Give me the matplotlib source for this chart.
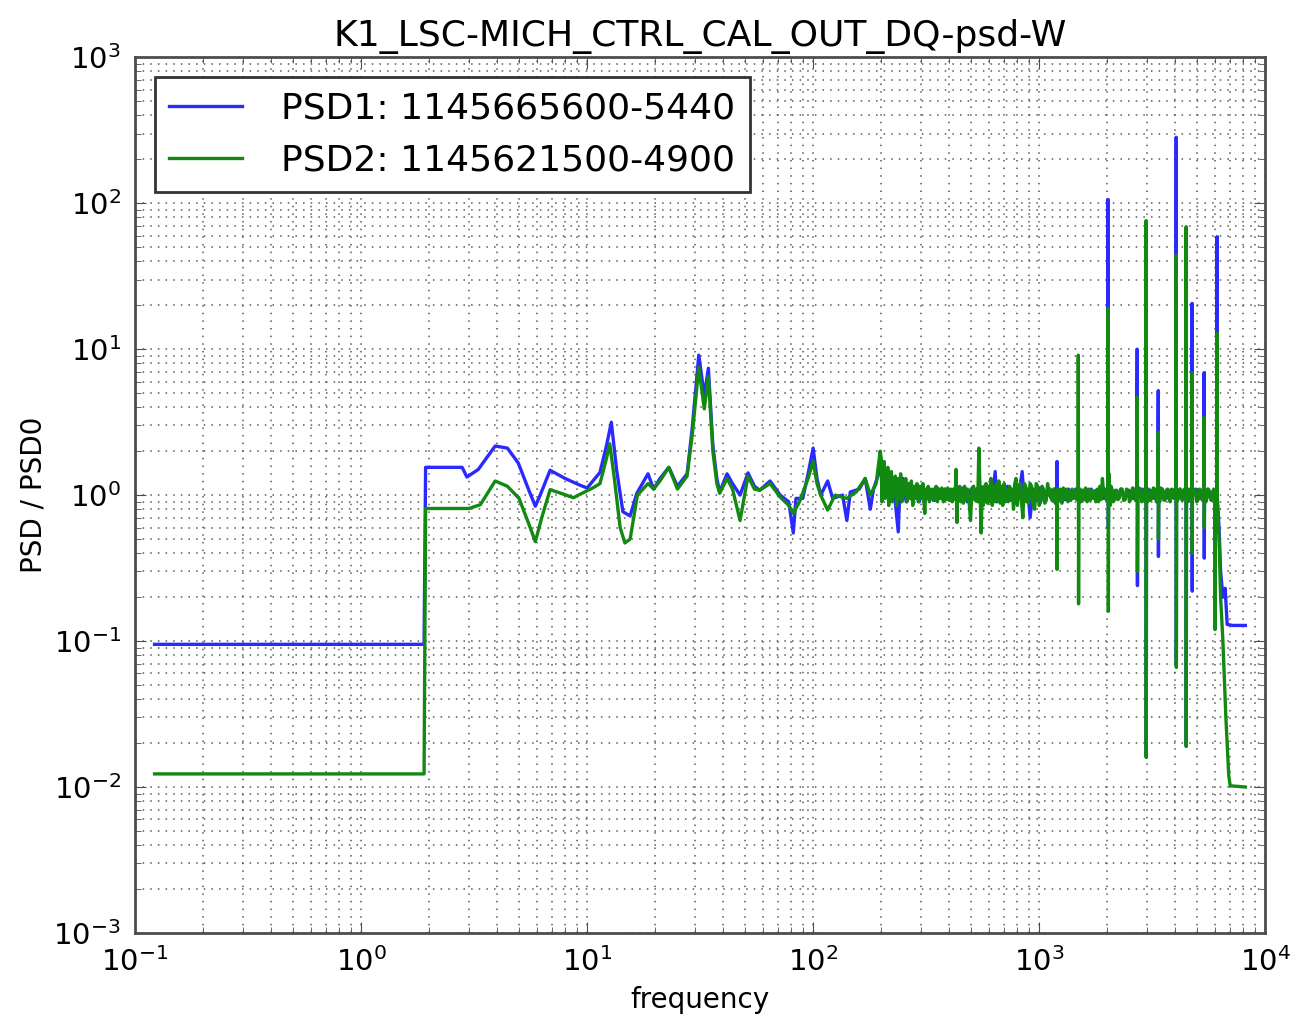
import matplotlib
matplotlib.use('Agg')
import matplotlib.pyplot as plt

title = 'K1_LSC-MICH_CTRL_CAL_OUT_DQ-psd-W'
label1 = 'PSD1: 1145665600-5440'
label2 = 'PSD2: 1145621500-4900'

# PSD1 (blue): (frequency, ratio) pairs
blue_points = [
    (0.122, 0.095), (1.90, 0.095), (1.93, 1.55), (2.8, 1.55), (2.94, 1.33), (3.3, 1.5),
    (3.92, 2.17), (4.44, 2.1), (4.96, 1.66), (5.5, 1.1), (5.9, 0.84), (6.2, 1.0), (6.86, 1.48),
    (8.0, 1.3), (9.3, 1.17), (10.0, 1.12), (11.4, 1.43), (12.2, 2.2), (12.8, 3.16), (13.5, 1.5),
    (14.4, 0.77), (15.5, 0.72), (16.6, 1.03), (18.6, 1.4), (19.7, 1.1), (21, 1.3), (23, 1.55),
    (25.1, 1.15), (27.7, 1.4), (29.2, 2.9), (31.2, 9.1), (33.0, 4.8), (34.4, 7.4), (36.0, 2.2),
    (37.5, 1.3), (38.6, 1.05), (41.6, 1.4), (44, 1.2), (47.5, 1.0), (51.5, 1.42), (55, 1.15),
    (58, 1.08), (64.5, 1.25), (71.5, 1.0), (78, 0.9), (81.7, 0.55), (84, 0.95), (90, 0.95),
    (95, 1.4), (100, 2.1), (104, 1.3), (108, 1.0), (116, 1.25), (122, 0.95), (135, 1.0),
    (141, 0.67), (146, 1.05), (160, 1.1), (170, 1.3), (179, 0.8), (185, 1.1), (198, 1.5),
    (200, 1.6), (205, 0.95), (210, 1.4), (216, 0.9), (222, 1.35), (230, 0.95), (238, 0.56),
    (242, 1.1), (250, 1.3), (258, 0.9), (266, 1.2), (275, 0.92), (285, 1.15), (295, 0.9),
    (305, 1.15), (315, 0.95), (325, 1.1), (340, 0.92), (355, 1.12), (370, 0.95), (385, 1.1),
    (400, 0.93), (420, 1.1), (440, 0.92), (460, 1.12), (480, 0.9), (500, 1.1), (525, 0.93),
    (550, 1.15), (575, 0.92), (600, 1.1), (620, 0.95), (639, 1.45), (650, 0.9), (675, 1.1),
    (700, 0.93), (725, 1.15), (750, 0.92), (780, 1.1), (810, 0.95), (841, 1.45), (860, 0.9),
    (890, 1.1), (912, 0.7), (940, 1.1), (975, 0.93), (1010, 1.12), (1050, 0.92), (1090, 1.1),
    (1130, 0.95), (1170, 1.1), (1195, 1.0), (1200, 1.7), (1206, 0.9), (1250, 1.08), (1300, 0.93),
    (1350, 1.1), (1400, 0.95), (1450, 1.1), (1500, 0.95), (1560, 1.08), (1620, 0.93), (1700, 1.1),
    (1780, 0.95), (1860, 1.05), (1940, 0.95), (2010, 1.0), (2018, 106), (2024, 0.59), (2030, 1.0),
    (2100, 1.08), (2200, 0.95), (2300, 1.1), (2400, 0.95), (2500, 1.08), (2600, 0.95), (2700, 1.0),
    (2716, 10), (2722, 0.24), (2730, 1.0), (2850, 1.1), (2960, 1.0), (2972, 60), (2978, 0.016),
    (2985, 1.0), (3100, 1.08), (3230, 0.95), (3350, 1.0), (3365, 5.2), (3371, 0.38), (3380, 1.0),
    (3500, 1.1), (3650, 0.95), (3800, 1.08), (3950, 0.95), (4030, 1.0), (4040, 283), (4046, 0.07),
    (4055, 1.0), (4200, 1.1), (4350, 0.95), (4455, 1.0), (4470, 50), (4476, 0.019), (4485, 1.0),
    (4600, 1.08), (4735, 1.0), (4750, 20.6), (4757, 0.22), (4765, 1.0), (4950, 1.1), (5150, 0.95),
    (5350, 1.0), (5370, 6.9), (5378, 0.37), (5390, 1.0), (5600, 1.1), (5850, 0.95), (6120, 1.0),
    (6130, 59), (6140, 0.95), (6250, 0.6), (6350, 0.3), (6500, 0.2), (6650, 0.23), (6790, 0.13),
    (7200, 0.128), (8170, 0.128),
]

# PSD2 (green)
green_points = [
    (0.122, 0.0123), (1.90, 0.0123), (1.93, 0.81), (2.9, 0.81), (3.0, 0.81), (3.37, 0.86),
    (3.92, 1.25), (4.44, 1.15), (5.0, 0.95), (5.6, 0.6), (5.9, 0.48), (6.3, 0.7), (6.86, 1.09),
    (7.8, 1.02), (8.7, 0.96), (9.5, 1.03), (10.6, 1.12), (11.4, 1.2), (12.2, 1.8), (12.6, 2.25),
    (13.2, 1.3), (14.0, 0.6), (14.7, 0.47), (15.5, 0.5), (16.7, 1.0), (18.6, 1.2), (19.7, 1.1),
    (21, 1.25), (23, 1.55), (25.1, 1.1), (27.7, 1.35), (29.2, 2.6), (31.2, 7.5), (33.0, 3.9),
    (34.4, 6.5), (36.0, 2.0), (37.5, 1.2), (38.6, 1.03), (41.6, 1.3), (44, 1.1), (47.5, 0.67),
    (51.5, 1.35), (55, 1.1), (58, 1.08), (64.5, 1.2), (71.5, 0.97), (78, 0.85), (81.7, 0.75),
    (87, 0.9), (95, 1.3), (100, 1.7), (104, 1.2), (108, 1.0), (116, 0.79), (125, 1.0),
    (141, 0.95), (155, 1.05), (170, 1.3), (179, 1.0), (190, 1.2), (198, 2.0),
    (200, 1.8), (201.5, 0.9), (203, 1.6), (204.5, 1.05), (206, 1.7), (208, 0.95), (210, 1.5),
    (212, 1.0), (214, 1.55), (216, 0.85), (218, 1.4), (220, 0.95), (222, 1.45), (224, 0.9),
    (226, 1.3), (228, 1.0), (231, 1.35), (234, 0.85), (238, 1.3), (241, 0.95), (244, 1.4),
    (247, 0.9), (250, 1.25), (253, 1.0), (257, 1.3), (260, 0.9), (264, 1.2), (268, 0.95),
    (272, 1.25), (276, 0.85), (280, 1.15), (284, 0.95), (288, 1.2), (292, 0.9), (297, 1.15),
    (301, 0.95), (306, 1.2), (309, 0.9), (312, 0.75), (315, 1.1), (319, 0.95), (323, 1.15),
    (327, 0.9), (331, 1.1), (336, 0.95), (340, 1.1), (345, 0.92), (350, 1.15), (355, 0.9),
    (360, 1.1), (366, 0.95), (371, 1.12), (377, 0.9), (382, 1.1), (388, 0.93), (394, 1.12),
    (400, 0.92), (406, 1.1), (412, 0.9), (418, 1.1), (425, 0.93), (429, 1.5), (433, 0.65),
    (436, 1.1), (440, 0.95), (445, 1.15), (450, 0.9), (456, 1.1), (462, 0.88), (468, 1.15),
    (475, 0.93), (482, 1.1), (490, 0.9), (497, 0.67), (505, 1.12), (513, 1.15), (521, 0.92),
    (528, 1.1), (535, 0.9), (541, 2.1), (548, 1.0), (554, 0.55), (560, 1.1), (563, 1.12),
    (566, 0.85), (570, 1.15), (575, 0.9), (582, 1.2), (590, 0.88), (597, 1.15), (605, 0.9),
    (612, 1.3), (620, 0.85), (629, 1.15), (639, 0.9), (647, 1.2), (655, 0.92), (663, 1.25),
    (672, 0.88), (681, 1.15), (690, 0.85), (700, 1.2), (710, 0.9), (720, 1.1), (730, 0.9),
    (740, 1.15), (750, 0.92), (760, 1.1), (770, 0.8), (780, 1.2), (790, 1.3), (801, 0.85),
    (812, 1.1), (823, 1.2), (835, 0.9), (847, 0.7), (860, 1.2), (872, 1.15), (885, 0.9),
    (898, 0.88), (912, 1.2), (926, 1.15), (940, 0.85), (955, 0.8), (970, 1.2), (985, 1.15),
    (1000, 0.85), (1015, 0.9), (1030, 1.15), (1045, 1.1), (1060, 0.88), (1075, 0.92),
    (1090, 1.2), (1105, 1.0), (1120, 1.1), (1140, 0.92), (1160, 1.1), (1178, 0.88), (1195, 1.0),
    (1200, 0.31), (1206, 1.1), (1222, 0.92), (1240, 1.1), (1260, 0.88), (1280, 1.12),
    (1300, 0.95), (1320, 1.1), (1340, 0.9), (1360, 1.08), (1380, 0.92), (1400, 1.1),
    (1425, 0.95), (1450, 1.08), (1468, 0.93), (1486, 1.0), (1490, 9.1), (1494, 0.18),
    (1498, 1.0), (1515, 1.1), (1530, 0.9), (1555, 1.08), (1580, 0.93), (1605, 1.12), (1630, 0.9),
    (1655, 1.1), (1680, 0.92), (1705, 1.08), (1730, 0.95), (1755, 1.07), (1780, 0.9),
    (1805, 1.1), (1830, 0.9), (1855, 1.15), (1880, 0.93), (1905, 1.3), (1930, 1.0), (1955, 1.1),
    (1980, 0.93), (2010, 1.0), (2018, 19), (2024, 0.16), (2030, 1.0), (2040, 1.4), (2060, 0.85),
    (2080, 1.15), (2100, 1.1), (2125, 0.9), (2150, 0.92), (2175, 1.08), (2200, 1.08),
    (2230, 0.93), (2260, 0.95), (2295, 1.1), (2330, 1.1), (2365, 0.92), (2400, 0.93),
    (2435, 1.1), (2470, 1.08), (2510, 0.9), (2550, 0.95), (2590, 1.12), (2630, 1.1),
    (2665, 0.92), (2700, 1.0), (2716, 4.7), (2722, 0.3), (2730, 1.0), (2765, 1.12), (2800, 1.1),
    (2840, 0.9), (2880, 0.93), (2920, 1.1), (2960, 1.0), (2972, 76), (2978, 0.016), (2985, 1.0),
    (3020, 0.9), (3050, 1.1), (3100, 0.92), (3150, 0.95), (3200, 1.12), (3250, 1.1), (3300, 0.9),
    (3350, 1.0), (3365, 2.7), (3371, 0.5), (3380, 1.0), (3415, 0.9), (3450, 1.12), (3500, 1.1),
    (3550, 0.93), (3600, 0.92), (3650, 1.08), (3700, 1.1), (3750, 0.95), (3800, 0.9),
    (3850, 1.1), (3900, 1.08), (3950, 0.95), (3990, 1.1), (4030, 1.0), (4040, 44), (4046, 0.066),
    (4055, 1.0), (4100, 0.92), (4150, 1.08), (4200, 1.1), (4250, 0.95), (4300, 0.92),
    (4350, 1.08), (4400, 1.1), (4455, 1.0), (4470, 69), (4476, 0.019), (4485, 1.0), (4540, 0.9),
    (4600, 1.1), (4670, 0.92), (4735, 1.0), (4750, 6.9), (4757, 0.4), (4765, 1.0), (4830, 1.1),
    (4900, 1.08), (4975, 0.9), (5050, 0.93), (5125, 1.1), (5200, 1.08), (5275, 0.92),
    (5350, 1.0), (5370, 3.4), (5378, 0.6), (5390, 1.0), (5470, 0.9), (5550, 1.1), (5625, 1.08),
    (5700, 0.95), (5775, 0.92), (5850, 1.05), (5920, 1.1), (5990, 1.0), (6000, 0.12),
    (6010, 1.0), (6060, 0.95), (6120, 1.0), (6130, 12.9), (6140, 0.9), (6250, 0.5), (6350, 0.2),
    (6500, 0.1), (6700, 0.03), (6900, 0.012), (7000, 0.0102), (8170, 0.0100),
]

blue_freq = [p[0] for p in blue_points]
blue_psd = [p[1] for p in blue_points]
green_freq = [p[0] for p in green_points]
green_psd = [p[1] for p in green_points]

plt.rcParams['mathtext.default'] = 'regular'
fig, ax = plt.subplots(figsize=(12.91, 10.23), dpi=100)
fig.subplots_adjust(left=0.1046, right=0.98, top=0.944, bottom=0.088)

ax.loglog(blue_freq, blue_psd, color='#2a2aff', lw=2.4, label=label1)
ax.loglog(green_freq, green_psd, color='#128a12', lw=2.4, label=label2)

ax.set_xlim(0.1, 1e4)
ax.set_ylim(1e-3, 1e3)
ax.grid(True, which='both', linestyle=(0, (1, 4)), color='0.35', linewidth=1.1)
ax.tick_params(which='both', direction='in', top=True, right=True, labelsize=21, pad=10,
               color='0.3')
ax.tick_params(which='major', length=8)
ax.tick_params(which='minor', length=4)
for s in ax.spines.values():
    s.set_linewidth(2)
    s.set_color('0.3')

ax.set_title(title, fontsize=26, pad=8)
ax.set_xlabel('frequency', fontsize=20, labelpad=7)
ax.set_ylabel('PSD / PSD0', fontsize=20)
leg = ax.legend(loc='upper left', fontsize=26, fancybox=False, framealpha=1,
                edgecolor='0.2', borderaxespad=0.55, handlelength=2.0, handletextpad=1.1)
leg.get_frame().set_linewidth(2)

plt.savefig('out.png')
